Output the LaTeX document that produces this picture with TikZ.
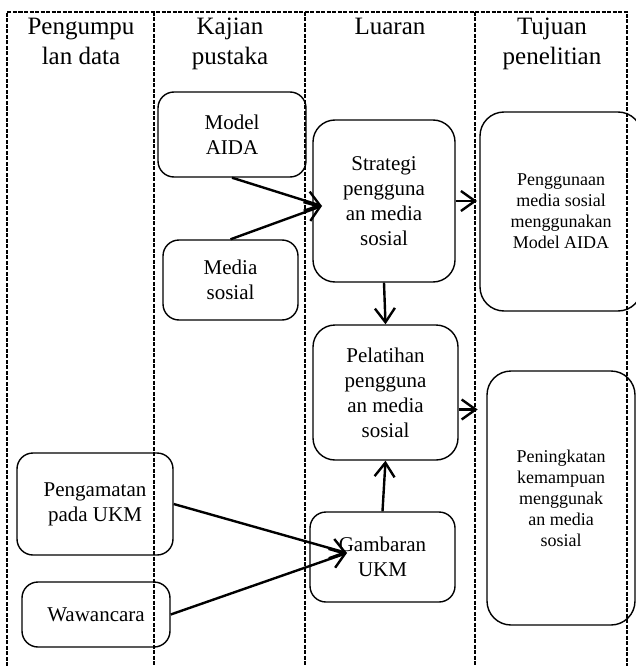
\documentclass[tikz,border=0pt]{standalone}
\usepackage{fontspec}
\setmainfont{Liberation Serif}
\usetikzlibrary{arrows.meta}

\begin{document}
\begin{tikzpicture}[x=1pt,y=-1pt,
  lane/.style={line width=1.6pt,dash pattern=on 4pt off 1.5pt},
  box/.style={draw,line width=1.4pt,rounded corners=16pt,align=center,inner sep=0pt,
    font=\fontsize{21}{25}\selectfont},
  goal/.style={box,rounded corners=24pt,font=\fontsize{18}{21}\selectfont},
  head/.style={align=center,inner sep=0pt,anchor=base,font=\fontsize{25}{30}\selectfont},
  arr/.style={line width=2.4pt,-{Straight Barb[length=14pt,width=20pt]}}]
\useasboundingbox (0,0) rectangle (636,666);
% lanes
\draw[lane] (7,666) -- (7,12) -- (627,12) -- (627,666);
\foreach \x in {154,305,475} \draw[lane] (\x,12) -- (\x,666);
\node[head] (hData) at (81,65) {Pengumpu\\lan data};
\node[head] (hPustaka) at (230,65) {Kajian\\pustaka};
\node[head] (hLuaran) at (390,35) {Luaran};
\node[head] (hTujuan) at (552,65) {Tujuan\\penelitian};
% boxes
\node[box,minimum width=148pt,minimum height=85pt] (aida) at (232,134.5) {Model\\AIDA};
\node[box,minimum width=135pt,minimum height=80pt] (medsos) at (230.5,280) {Media\\sosial};
\node[box,rounded corners=22pt,minimum width=142pt,minimum height=162pt] (strategi) at (384,201) {Strategi\\pengguna\\an media\\sosial};
\node[box,rounded corners=22pt,minimum width=145pt,minimum height=135pt] (pelatihan) at (385.5,392.5) {Pelatihan\\pengguna\\an media\\sosial};
\node[box,minimum width=145pt,minimum height=90pt] (gambaran) at (382.5,557) {Gambaran\\UKM};
\node[box,minimum width=156pt,minimum height=102pt] (amat) at (95,504) {Pengamatan\\pada UKM};
\node[box,minimum width=148pt,minimum height=65pt] (wawancara) at (96,614.5) {Wawancara};
\node[goal,minimum width=162pt,minimum height=199pt] (tujuanA) at (561,211.5) {Penggunaan\\media sosial\\menggunakan\\Model AIDA};
\node[goal,minimum width=148pt,minimum height=254pt] (tujuanB) at (561,498) {Peningkatan\\kemampuan\\menggunak\\an media\\sosial};
% arrows
\coordinate (sIn) at (322,206);
\coordinate (gIn) at (347,553);
\draw[arr] (aida.south) -- (sIn);
\draw[arr] (medsos.north) -- (sIn);
\draw[arr] (strategi.east) -- (strategi.east -| 477,0);
\draw[arr] (strategi.south) -- (pelatihan.north);
\draw[arr] ([yshift=-17pt]pelatihan.east) -- ++(19,0);
\draw[arr] (gambaran.north) -- (pelatihan.south);
\draw[arr] (amat.east) -- (gIn);
\draw[arr] (wawancara.east) -- (gIn);
\end{tikzpicture}
\end{document}
